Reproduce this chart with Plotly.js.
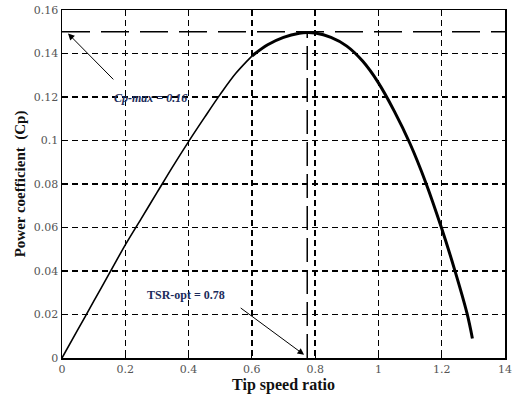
<!DOCTYPE html>
<html><head><meta charset="utf-8">
<script src="https://cdn.plot.ly/plotly-3.0.1.min.js"></script>
<style>html,body{margin:0;padding:0;background:#fff}#c{width:513px;height:394px}</style>
</head><body><div id="c"></div>
<script>
// Cp curve (left thin part and right thick part)
const tsrLeft = [0, 0.05, 0.1, 0.15, 0.2, 0.25, 0.3, 0.35, 0.4, 0.45, 0.5, 0.55, 0.6];
const cpLeft  = [0, 0.013, 0.026, 0.039, 0.052, 0.064, 0.076, 0.088, 0.0995, 0.1105, 0.1212, 0.131, 0.1388];
const tsrRight = [0.6, 0.65, 0.7, 0.75, 0.775, 0.8, 0.85, 0.9, 0.95, 1.0, 1.05, 1.1, 1.15, 1.2, 1.24, 1.28, 1.297];
const cpRight  = [0.1388, 0.144, 0.1474, 0.1493, 0.1496, 0.1494, 0.1474, 0.1434, 0.1365, 0.1265, 0.1135, 0.0985, 0.0805, 0.0595, 0.041, 0.0205, 0.009];
const cpMax = 0.15;
const tsrOpt = 0.775;
const xTickVals = [0, 0.2, 0.4, 0.6, 0.8, 1, 1.2, 1.4];
const xTickText = ["0", "0.2", "0.4", "0.6", "0.8", "1", "1.2", "14"];
const yTickVals = [0, 0.02, 0.04, 0.06, 0.08, 0.1, 0.12, 0.14, 0.16];
const yTickText = ["0", "0.02", "0.04", "0.06", "0.08", "0.1", "0.12", "0.14", "0.16"];

const serif = 'Times New Roman, Liberation Serif, serif';
const serif2 = 'DejaVu Serif';
const traces = [
  {x:[0,1.4], y:[cpMax,cpMax], mode:'lines', line:{color:'#000', width:1.5, dash:'28px,11px'}, hoverinfo:'skip'},
  {x:[tsrOpt,tsrOpt], y:[0,cpMax], mode:'lines', line:{color:'#000', width:1.5, dash:'24px,8px'}, hoverinfo:'skip'},
  {x:tsrLeft, y:cpLeft, mode:'lines', line:{color:'#000', width:1.6, shape:'spline', smoothing:1}},
  {x:tsrRight, y:cpRight, mode:'lines', line:{color:'#000', width:3, shape:'spline', smoothing:1}}
];
const axCommon = {
  showline:true, mirror:true, linecolor:'#000', linewidth:1.5,
  showgrid:true, gridcolor:'#000', gridwidth:1.4, griddash:'6px,4px',
  zeroline:false, ticks:'inside', ticklen:4, tickcolor:'#000',
  tickfont:{family:serif2, size:11, color:'#555'}, tickmode:'array'
};
const layout = {
  width:513, height:394, margin:{l:62, r:8, t:10, b:36},
  paper_bgcolor:'#fff', plot_bgcolor:'#fff', showlegend:false,
  font:{family:serif},
  xaxis: Object.assign({}, axCommon, {range:[0,1.4], tickvals:xTickVals, ticktext:xTickText,
    title:{text:'<b>Tip speed ratio</b>', font:{family:serif, size:16, color:'#111'}, standoff:0}}),
  yaxis: Object.assign({}, axCommon, {range:[0,0.16], tickvals:yTickVals, ticktext:yTickText,
    title:{text:'<b>Power coefficient  (Cp)</b>', font:{family:serif, size:15, color:'#111'}, standoff:4}}),
  annotations:[
    {x:0.28, y:0.1195, xref:'x', yref:'y', text:'<b><i>Cp-max = 0.16</i></b>', showarrow:false,
     font:{family:serif, size:12, color:'#1c2c5c'}},
    {x:0.019, y:0.1492, ax:0.167, ay:0.1274, xref:'x', yref:'y', axref:'x', ayref:'y', text:'',
     showarrow:true, arrowhead:2, arrowsize:1.3, arrowwidth:1, arrowcolor:'#000'},
    {x:0.392, y:0.029, xref:'x', yref:'y', text:'<b>TSR-opt = 0.78</b>', showarrow:false,
     font:{family:serif, size:12, color:'#1c2c5c'}},
    {x:0.765, y:0.0015, ax:0.56, ay:0.0235, xref:'x', yref:'y', axref:'x', ayref:'y', text:'',
     showarrow:true, arrowhead:2, arrowsize:1.3, arrowwidth:1, arrowcolor:'#000'}
  ]
};
Plotly.newPlot('c', traces, layout, {displayModeBar:false, staticPlot:true});
</script></body></html>
